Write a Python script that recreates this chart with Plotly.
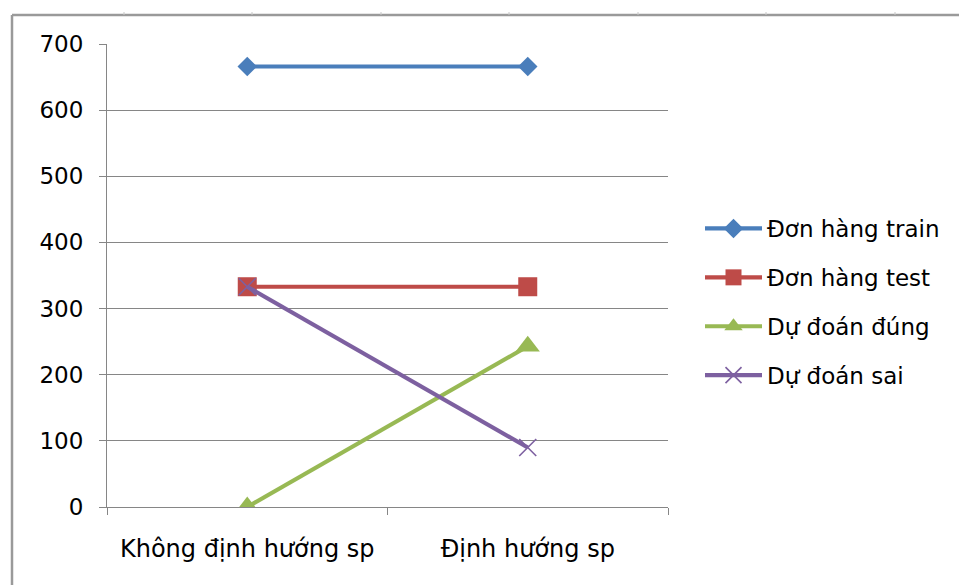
import plotly.graph_objects as go

# Data
categories = ["Không định hướng sp", "Định hướng sp"]
don_hang_train = [666, 666]
don_hang_test = [333, 333]
du_doan_dung = [0, 243]
du_doan_sai = [333, 90]
y_ticks = [0, 100, 200, 300, 400, 500, 600, 700]

W, H = 959, 585
L, R, T, B = 107, 668, 44, 507  # plot area in pixels

FONT = "DejaVu Sans"
GRID = "#868686"


def px_x(x):
    return (x - L) / (R - L)


def px_y(y):
    return (B - y) / (B - T)


fig = go.Figure()

series = [
    ("Đơn hàng train", don_hang_train, "#4A7EBB", dict(symbol="diamond", size=15)),
    ("Đơn hàng test", don_hang_test, "#BE4B48", dict(symbol="square", size=19)),
    ("Dự đoán đúng", du_doan_dung, "#98B954", dict(symbol="triangle-up", size=21)),
    ("Dự đoán sai", du_doan_sai, "#7D60A0",
     dict(symbol="x-thin-open", size=17, line=dict(width=1.6, color="#7D60A0"))),
]

for i, (name, vals, color, marker) in enumerate(series):
    m = dict(color=color, **marker)
    if "line" not in m:
        m["line"] = dict(width=0)
    fig.add_trace(go.Scatter(
        x=categories, y=vals, name=name, mode="lines+markers",
        line=dict(color=color, width=4.2),
        marker=m, legendgroup=f"g{i}",
    ))

# chart frame (left and top edges) with small marks along the top edge
shapes = [
    dict(type="line", xref="paper", yref="paper",
         x0=px_x(12), x1=px_x(W + 5), y0=px_y(15), y1=px_y(15),
         line=dict(color="#9a9a9a", width=2.5)),
    dict(type="line", xref="paper", yref="paper",
         x0=px_x(12), x1=px_x(12), y0=px_y(15), y1=px_y(H + 5),
         line=dict(color="#9a9a9a", width=2.5)),
]
for xm in [124, 252, 381, 509, 638, 766, 895]:
    shapes.append(dict(type="line", xref="paper", yref="paper",
                       x0=px_x(xm), x1=px_x(xm), y0=px_y(12), y1=px_y(15),
                       line=dict(color="#c8c8c8", width=1)))

fig.update_layout(
    width=W, height=H,
    margin=dict(l=L, r=W - R, t=T, b=H - B, pad=0),
    paper_bgcolor="white", plot_bgcolor="white",
    font=dict(family=FONT, size=23, color="#000000"),
    showlegend=True,
    legend=dict(
        x=px_x(700), y=px_y(207), xanchor="left", yanchor="top",
        traceorder="grouped", tracegroupgap=16,
        itemwidth=57, font=dict(family=FONT, size=23, color="#000000"),
        bgcolor="rgba(0,0,0,0)",
    ),
    xaxis=dict(
        type="category", range=[-0.5, 1.5],
        showgrid=False, showline=True, linecolor=GRID, linewidth=1,
        ticks="outside", tickson="boundaries", ticklen=7, tickcolor=GRID,
        ticklabelstandoff=20, tickfont=dict(family=FONT, size=24, color="#000000"),
        zeroline=False, fixedrange=True,
    ),
    yaxis=dict(
        range=[0, 700], tickvals=y_ticks, showgrid=True, gridcolor=GRID, gridwidth=1,
        showline=True, linecolor=GRID, linewidth=1,
        ticks="outside", ticklen=7, tickcolor=GRID,
        ticklabelstandoff=11, tickfont=dict(family=FONT, size=23, color="#000000"),
        zeroline=False, fixedrange=True,
    ),
    shapes=shapes,
)

fig.write_html("out.html")
